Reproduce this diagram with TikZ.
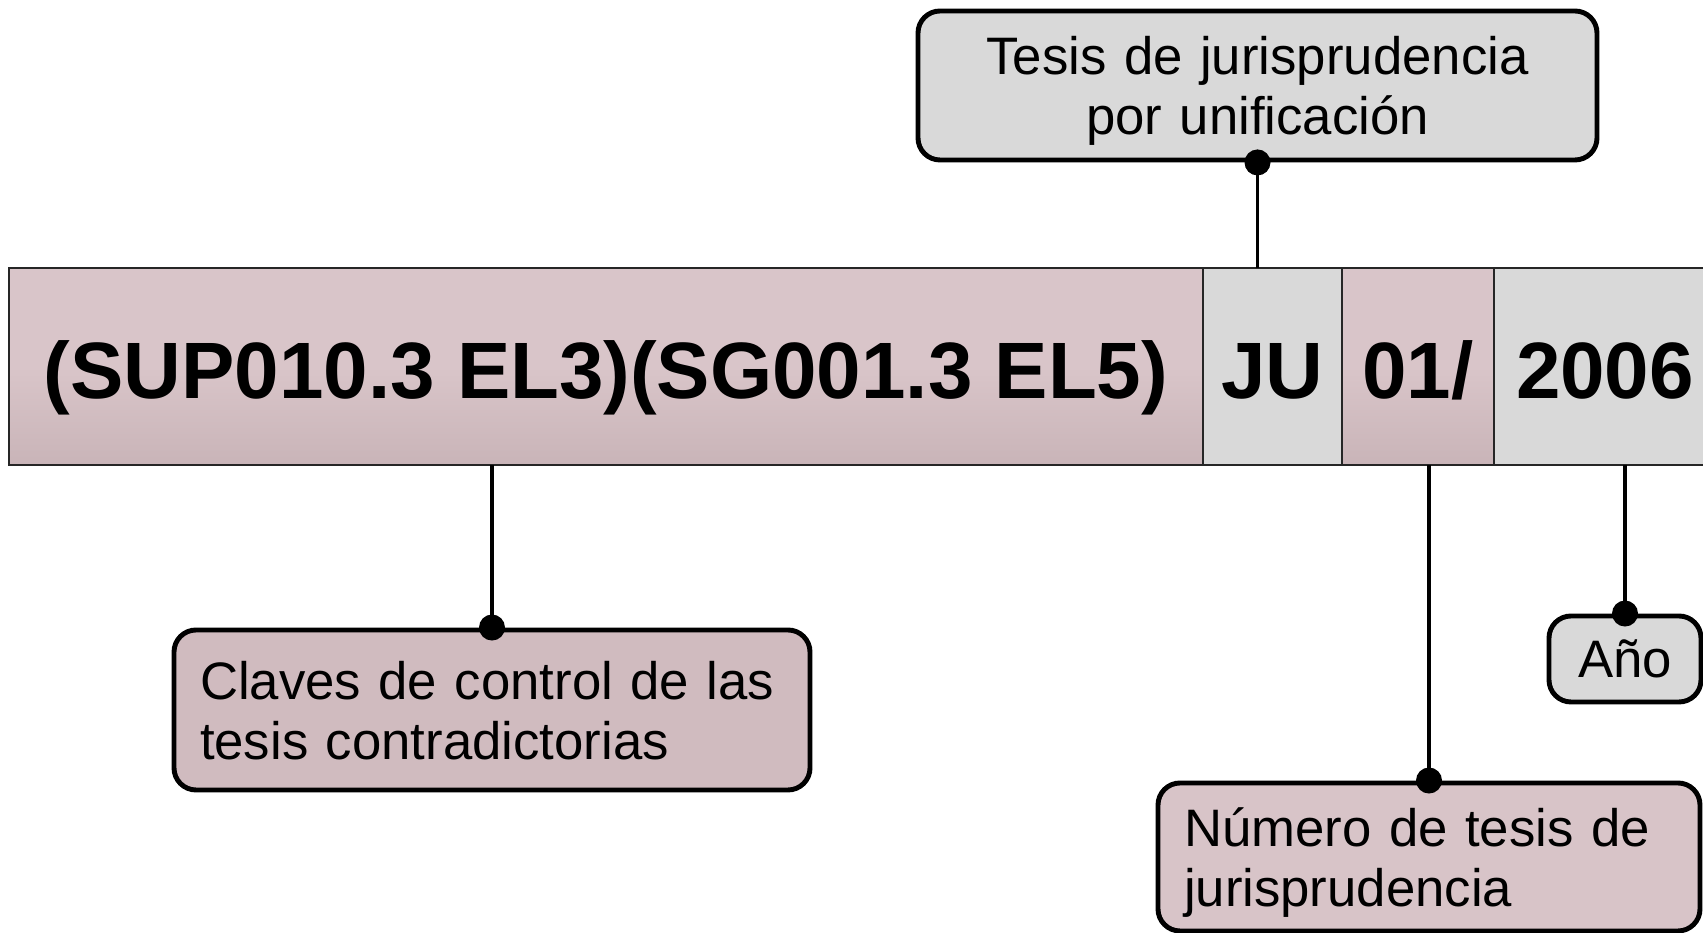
\documentclass[tikz,border=0pt]{standalone}
\usepackage{fontspec}
\setmainfont{Liberation Sans}
\usetikzlibrary{positioning}
\definecolor{pinkfill}{HTML}{D9C5C9}
\definecolor{pinkdark}{HTML}{C9B4B8}
\definecolor{pinkbox}{HTML}{D0BBBF}
\definecolor{pinklight}{HTML}{D8C4C8}
\definecolor{greyfill}{HTML}{D9D9D9}
\tikzset{
    cell/.style={draw=black!85, line width=1.3pt, minimum height=3.94cm, inner sep=0pt, outer sep=0pt, text height=36pt, text depth=0pt, font=\fontsize{45.5}{50}\selectfont\bfseries},
    pinkcell/.style={cell, top color=pinkfill, bottom color=pinkdark, middle color=pinkfill},
    greycell/.style={cell, fill=greyfill},
    callout/.style={draw, line width=2.8pt, rounded corners=0.44cm, inner xsep=0.52cm, inner ysep=0pt, font=\fontsize{30}{34.2}\selectfont},
    twoline/.style={callout, text depth=34.2pt},
    link/.style={line width=2.1pt}
}

\begin{document}
\begin{tikzpicture}
    \useasboundingbox (0,0) rectangle (34.06,18.66);
    % Code bar
    \node[pinkcell, minimum width=23.88cm] (claves) at (12.12,11.33) {(SUP010.3 EL3)(SG001.3 EL5)};
    \node[greycell, minimum width=2.78cm, right=0pt of claves] (ju) {JU};
    \node[pinkcell, minimum width=3.04cm, right=0pt of ju] (num) {01/};
    \node[greycell, minimum width=4.44cm, right=0pt of num] (year) {2006};
    % Callouts
    \node[twoline, fill=greyfill, text width=12.54cm, minimum height=2.98cm, align=center] (tesis) at (25.15,16.95) {Tesis de jurisprudencia\\por unificación};
    \node[twoline, fill=pinkbox, text width=11.68cm, minimum height=3.2cm, align=left] (clavesbox) at (9.84,4.46) {Claves de control de las\\tesis contradictorias};
    \node[callout, fill=greyfill, minimum width=3.04cm, minimum height=1.72cm] (ano) at (32.5,5.48) {Año};
    \node[twoline, fill=pinklight, text width=9.8cm, minimum height=2.96cm, align=left] (numbox) at (28.58,1.52) {Número de tesis de\\jurisprudencia};
    % Connectors
    \draw[link] (tesis.south) -- (tesis.south |- ju.north);
    \fill (tesis.south) circle (0.26);
    \draw[link] (clavesbox.north) -- (clavesbox.north |- claves.south);
    \fill (clavesbox.north) circle (0.26);
    \draw[link] (ano.north) -- (ano.north |- year.south);
    \fill (ano.north) circle (0.26);
    \draw[link] (numbox.north) -- (numbox.north |- num.south);
    \fill (numbox.north) circle (0.26);
\end{tikzpicture}
\end{document}
